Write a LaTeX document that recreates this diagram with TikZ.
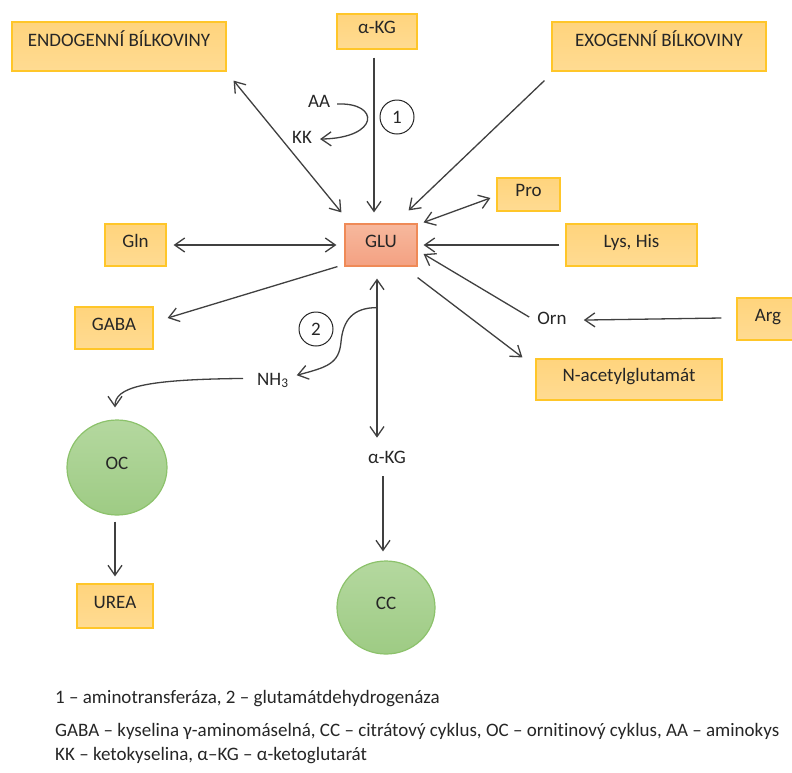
\documentclass[tikz,border=0pt]{standalone}
\usepackage{fontspec}
\setmainfont{Carlito}[Ligatures=CommonOff]
\usetikzlibrary{arrows.meta,shapes.geometric}
\definecolor{txt}{HTML}{262626}
\definecolor{lin}{HTML}{404040}
\definecolor{boxtop}{HTML}{FFD47D}
\definecolor{boxbot}{HTML}{FFDB92}
\definecolor{boxedge}{HTML}{FFC629}
\definecolor{glutop}{HTML}{F7B89D}
\definecolor{glubot}{HTML}{F4A182}
\definecolor{gluedge}{HTML}{EF8A57}
\definecolor{grtop}{HTML}{B4D89F}
\definecolor{grbot}{HTML}{9ECB84}
\definecolor{gredge}{HTML}{8CC26B}
\begin{document}
\begin{tikzpicture}[x=1pt,y=-1pt,
  font=\fontsize{19}{23}\selectfont,
  box/.style={draw=boxedge, line width=1.2pt, top color=boxtop, bottom color=boxbot,
    inner sep=0pt, text height=0.65em, text depth=0.2em, text=txt},
  glubox/.style={box, draw=gluedge, top color=glutop, bottom color=glubot},
  cyc/.style={ellipse, draw=gredge, line width=1.2pt, top color=grtop, bottom color=grbot,
    inner sep=0pt, text height=0.65em, text depth=0.2em, text=txt},
  lbl/.style={inner sep=0pt, text height=0.65em, text depth=0.2em, text=txt},
  num/.style={circle, draw=txt, line width=1pt, minimum size=34pt, inner sep=0pt, text=txt},
  arr/.style={draw=lin, line width=1.3pt, -{Straight Barb[length=10pt,width=14pt]}},
  darr/.style={draw=lin, line width=1.3pt, {Straight Barb[length=10pt,width=14pt]}-{Straight Barb[length=10pt,width=14pt]}}
]
\useasboundingbox (0,0) rectangle (792,772);
\fill[white] (0,0) rectangle (792,772);

% boxes
\node[box, minimum width=214pt, minimum height=49pt, text depth=0.59em] (endo) at (119,46.5) {ENDOGENNÍ BÍLKOVINY};
\node[box, minimum width=80pt, minimum height=35pt] (akg) at (377,31.5) {α-KG};
\node[box, minimum width=214pt, minimum height=49pt, text depth=0.59em] (exo) at (659,46.5) {EXOGENNÍ BÍLKOVINY};
\node[glubox, minimum width=72pt, minimum height=42pt] (glu) at (381,245) {GLU};
\node[box, minimum width=63pt, minimum height=33pt] (pro) at (528.5,194.5) {Pro};
\node[box, minimum width=131pt, minimum height=42pt] (lys) at (631.5,245) {Lys, His};
\node[box, minimum width=61pt, minimum height=42pt] (gln) at (135.5,245) {Gln};
\node[box, minimum width=78pt, minimum height=42pt] (gaba) at (114,328) {GABA};
\node[box, minimum width=62pt, minimum height=42pt] (arg) at (768,319) {Arg};
\node[box, minimum width=186pt, minimum height=41pt] (nac) at (629,379.5) {N-acetylglutamát};
\node[box, minimum width=76pt, minimum height=44pt] (urea) at (115,606) {UREA};
\node[cyc, minimum width=100pt, minimum height=95pt] (oc) at (117,467.5) {OC};
\node[cyc, minimum width=98pt, minimum height=93pt] (cc) at (386,607.5) {CC};

% plain labels
\node[lbl, anchor=base] (aa) at (319,107) {AA};
\node[lbl, anchor=base] (kk) at (302,143) {KK};
\node[lbl, anchor=base west] (nh) at (257,385) {NH\textsubscript{3}};
\node[lbl, anchor=base] (orn) at (552,324) {Orn};
\node[lbl, anchor=base] (akgb) at (387,463) {α-KG};
\node[num] (one) at (397,117) {1};
\node[num] (two) at (316,329) {2};

% connectors
\draw[arr] ([shift={(-3,8)}]akg.south) -- ([shift={(-7,-11)}]glu.north);
\draw[darr] ([shift={(7,9)}]endo.south east) -- ([shift={(-3,-11)}]glu.north west);
\draw[arr] ([shift={(-7,9)}]exo.south west) -- ([shift={(-9,-13)}]glu.north east);
\draw[darr] ([shift={(6,-1)}]glu.north east) -- ([shift={(-6,3.5)}]pro.west);
\draw[arr] ([shift={(-6,0)}]lys.west) -- ([shift={(6,0)}]glu.east);
\draw[darr] ([shift={(7,0)}]gln.east) -- ([shift={(-8,0)}]glu.west);
\draw[arr] ([shift={(-7,0)}]glu.south west) -- ([shift={(14,-10)}]gaba.east);
\draw[darr] ([shift={(-4,12)}]glu.south) -- ([shift={(-10,-18.65)}]akgb.north);
\draw[arr] ([shift={(-4,11.2)}]akgb.south) -- ([shift={(-3,-9)}]cc.north);
\draw[arr] ([shift={(-2,6)}]oc.south) -- ([shift={(0,-7)}]urea.north);
\draw[arr] ([shift={(0,11)}]glu.south east) -- ([shift={(-13,-1)}]nac.north west);
\draw[arr] ([shift={(-8,-4.7)}]orn.west) -- ([shift={(6,9)}]glu.east);
\draw[arr] ([shift={(-15,-1)}]arg.west) -- ([shift={(17,-1.7)}]orn.east);
\draw[arr] ([shift={(7,-0.7)}]aa.east) .. controls +(43,-2) and +(60,-1) .. ([shift={(8,-1.7)}]kk.east);
\coordinate (gdh) at ([shift={(-4,41)}]glu.south);
\draw[arr] (gdh) .. controls +(-24,0) and +(2,-22) .. (341,342) .. controls +(-2,22) and +(30,-8) .. ([shift={(8,-7.5)}]nh.east);
\draw[arr] ([shift={(-14,-4.3)}]nh.west) .. controls +(-100,1) and +(0,-20) .. ([shift={(-2,-12)}]oc.north);

% legend
\node[lbl, anchor=base west] (leg1) at (55,703) {1 – aminotransferáza, 2 – glutamátdehydrogenáza};
\node[lbl, anchor=base west] (leg2) at (55,736) {GABA – kyselina γ-aminomáselná, CC – citrátový cyklus, OC – ornitinový cyklus, AA – aminokys};
\node[lbl, anchor=base west] (leg3) at (55,760) {KK – ketokyselina, α–KG – α-ketoglutarát};
\end{tikzpicture}
\end{document}
